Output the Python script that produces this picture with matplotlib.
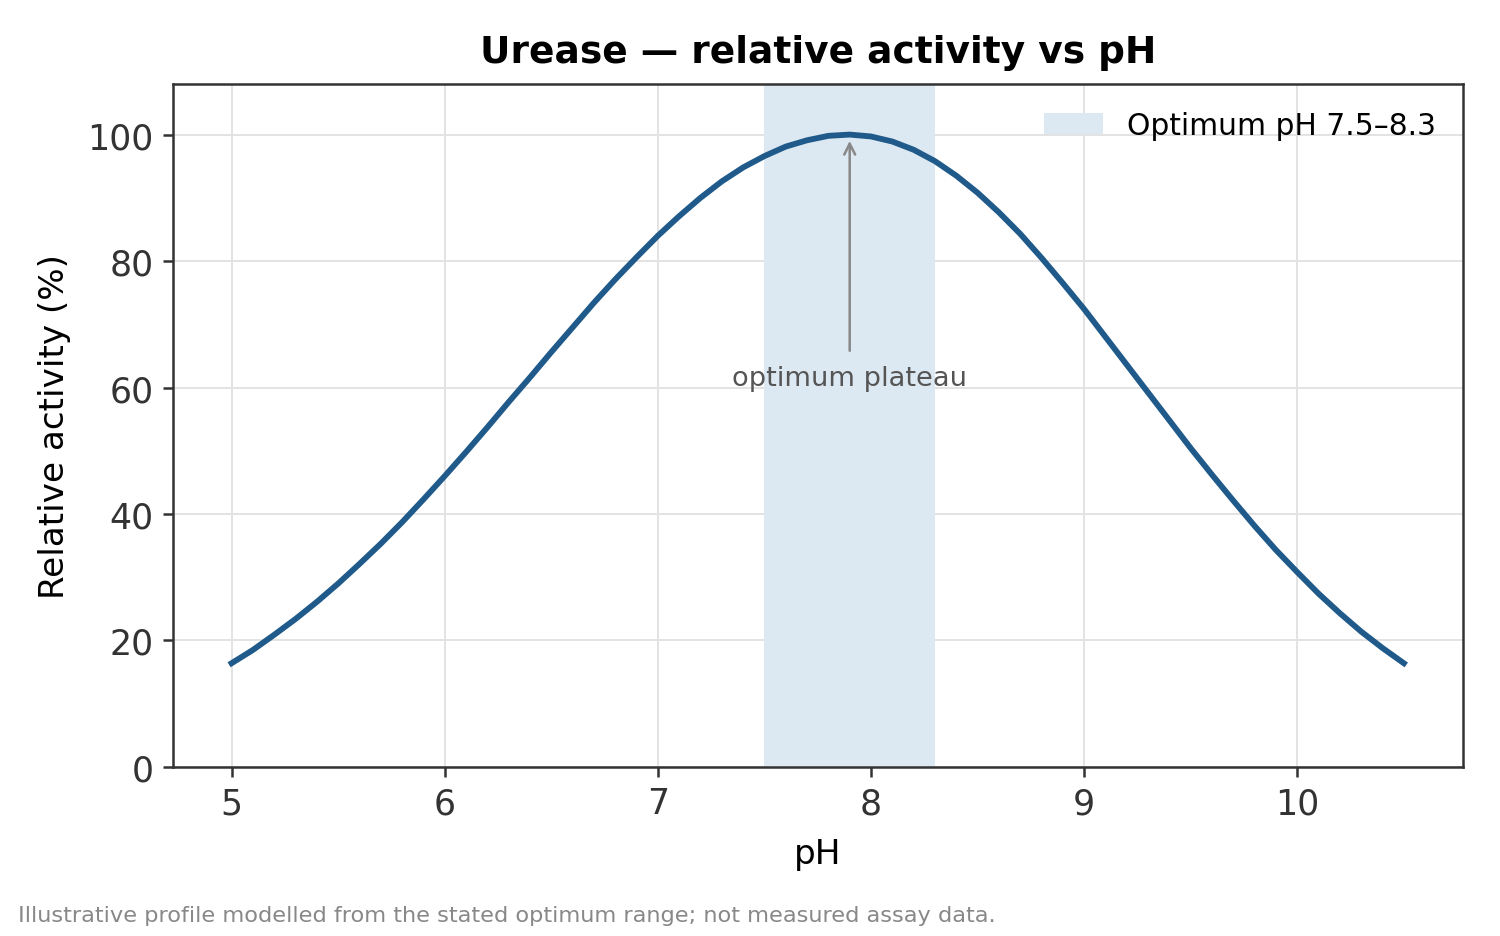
import numpy as np
import matplotlib
matplotlib.use("Agg")
import matplotlib.pyplot as plt

# data
ph = [5.0, 5.1, 5.2, 5.3, 5.4, 5.5, 5.6, 5.7, 5.8, 5.9,
      6.0, 6.1, 6.2, 6.3, 6.4, 6.5, 6.6, 6.7, 6.8, 6.9,
      7.0, 7.1, 7.2, 7.3, 7.4, 7.5, 7.6, 7.7, 7.8, 7.9,
      8.0, 8.1, 8.2, 8.3, 8.4, 8.5, 8.6, 8.7, 8.8, 8.9,
      9.0, 9.1, 9.2, 9.3, 9.4, 9.5, 9.6, 9.7, 9.8, 9.9,
      10.0, 10.1, 10.2, 10.3, 10.4, 10.5]
activity = [16.4, 18.5, 20.9, 23.4, 26.1, 29.0, 32.1, 35.3, 38.7, 42.3,
            46.0, 49.8, 53.7, 57.7, 61.6, 65.6, 69.5, 73.4, 77.1, 80.6,
            84.0, 87.1, 90.0, 92.6, 94.8, 96.6, 98.1, 99.1, 99.8, 100.0,
            99.7, 98.9, 97.6, 95.8, 93.5, 90.8, 87.7, 84.3, 80.5, 76.5,
            72.4, 68.0, 63.6, 59.2, 54.8, 50.4, 46.2, 42.1, 38.1, 34.3,
            30.8, 27.4, 24.3, 21.4, 18.8, 16.4]
opt_lo, opt_hi = 7.5, 8.3
peak_ph, peak_val = 7.9, 100.0

plt.rcParams['font.family'] = ['DejaVu Sans']

fig = plt.figure(figsize=(7.5, 4.685), dpi=200)
ax = fig.add_axes([0.1153, 0.1804, 0.8597, 0.7289])

ax.axvspan(opt_lo, opt_hi, color="#dce8f2", lw=0, label="Optimum pH 7.5–8.3", zorder=1)
ax.plot(ph, activity, color="#1f5a8a", lw=2.1, zorder=3, solid_joinstyle="round")

ax.annotate("optimum plateau", xy=(peak_ph, peak_val - 1), xytext=(peak_ph, 59.5),
            ha="center", va="bottom", fontsize=9.8, color="#555555",
            arrowprops=dict(arrowstyle="->", color="#888888", lw=0.9, shrinkB=0, shrinkA=3))

ax.set_xlim(4.725, 10.775)
ax.set_ylim(0, 108)
ax.set_xticks([5, 6, 7, 8, 9, 10])
ax.set_yticks([0, 20, 40, 60, 80, 100])
ax.grid(True, color="#e3e3e3", lw=0.7, zorder=0)
ax.set_axisbelow(True)
for s in ax.spines.values():
    s.set_color("#333333")
    s.set_linewidth(0.9)
ax.tick_params(labelsize=12.5, colors="#333333", length=3.5, width=0.9)

ax.set_title("Urease — relative activity vs pH", fontsize=13.5, fontweight="bold", pad=8)
ax.set_xlabel("pH", fontsize=12.3, labelpad=6)
ax.set_ylabel("Relative activity (%)", fontsize=12.3, labelpad=6)
ax.legend(loc="upper right", frameon=False, fontsize=10.7)

fig.text(0.012, 0.012, "Illustrative profile modelled from the stated optimum range; not measured assay data.",
         fontsize=8.1, color="#888888", ha="left", va="bottom")

fig.savefig("out.png", dpi=200)
